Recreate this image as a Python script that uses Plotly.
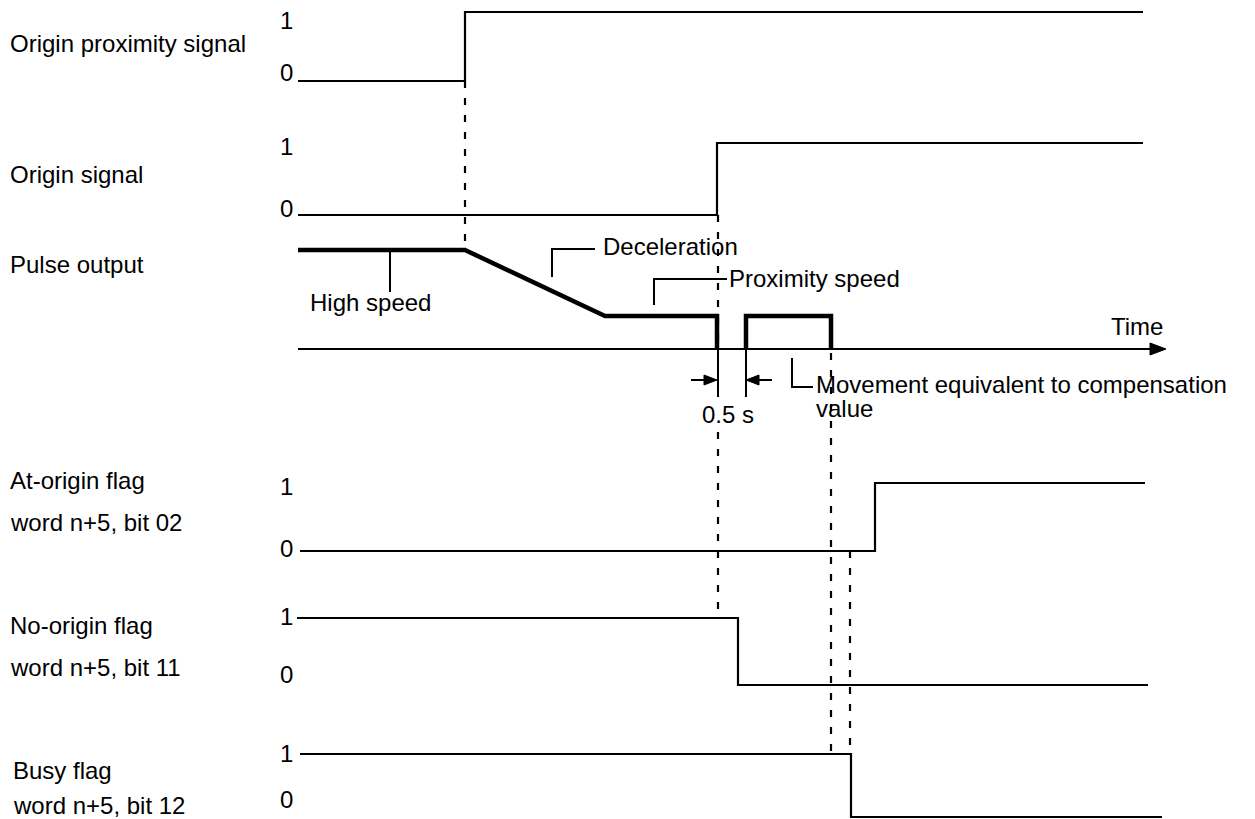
import plotly.graph_objects as go

# ---------------- data (time units on the horizontal scale) ----------------
T_START = 298
# transition instants
t_prox_on = 465        # origin proximity signal rises
t_decel_end = 605      # deceleration finished -> proximity speed
t_origin_on = 717      # origin signal rises, pulse output stops
t_restart = 746        # pulse restarts after 0.5 s
t_noorigin_off = 738   # no-origin flag falls
t_comp_end = 831       # compensation movement ends
t_busy_off = 851       # busy flag falls
t_atorigin_on = 875    # at-origin flag rises
t_axis_end = 1166      # time-axis arrow tip

# step signals: (times, levels 0/1)
prox_t = [T_START, t_prox_on, t_prox_on, 1143]
prox_v = [0, 0, 1, 1]
origin_t = [T_START, t_origin_on, t_origin_on, 1143]
origin_v = [0, 0, 1, 1]
atorigin_t = [300, t_atorigin_on, t_atorigin_on, 1145]
atorigin_v = [0, 0, 1, 1]
noorigin_t = [297, t_noorigin_off, t_noorigin_off, 1148]
noorigin_v = [1, 1, 0, 0]
busy_t = [300, t_busy_off, t_busy_off, 1162]
busy_v = [1, 1, 0, 0]

# pulse output speed profile (1 = high speed); None = pen up
pulse_t = [T_START, t_prox_on, t_decel_end, t_origin_on, t_origin_on, None,
           t_restart, t_restart, t_comp_end, t_comp_end]
pulse_v = [1.0, 1.0, 0.333, 0.333, 0.0, None, 0.0, 0.333, 0.333, 0.0]

row_names = ["Origin proximity signal", "Origin signal", "Pulse output",
             "At-origin flag", "word n+5, bit 02", "No-origin flag",
             "word n+5, bit 11", "Busy flag", "word n+5, bit 12"]

# ---------------- layout (vertical placement of each row) ----------------
rows = {  # (y at level 0, y at level 1)
    "prox": (81, 12),
    "origin": (215, 143),
    "pulse": (349, 250),
    "atorigin": (551, 483),
    "noorigin": (685, 618),
    "busy": (817, 754),
}


def ys(row, vals):
    y0, y1 = rows[row]
    return [None if v is None else y0 + v * (y1 - y0) for v in vals]


FONT = "Liberation Sans, Arial, sans-serif"
FS = 24
BLACK = "#000000"

fig = go.Figure()


def line(x, y, width=2.2, dash=None):
    fig.add_trace(go.Scatter(x=x, y=y, mode="lines", hoverinfo="skip",
                             line=dict(color=BLACK, width=width, dash=dash),
                             connectgaps=False, showlegend=False))


# step signals
line(prox_t, ys("prox", prox_v))
line(origin_t, ys("origin", origin_v))
line(atorigin_t, ys("atorigin", atorigin_v))
line(noorigin_t, ys("noorigin", noorigin_v))
line(busy_t, ys("busy", busy_v))

# time axis
axis_y = rows["pulse"][0]
line([T_START, t_axis_end - 14], [axis_y, axis_y], width=2)
fig.add_trace(go.Scatter(x=[t_axis_end - 16, t_axis_end, t_axis_end - 16, t_axis_end - 16],
                         y=[axis_y - 6, axis_y, axis_y + 6, axis_y - 6],
                         mode="lines", fill="toself", fillcolor=BLACK,
                         line=dict(color=BLACK, width=1), hoverinfo="skip",
                         showlegend=False))

# pulse output (thick)
line(pulse_t, ys("pulse", pulse_v), width=4.5)

# dashed guide lines
DASH = "7px,10px"
line([t_prox_on, t_prox_on], [rows["prox"][0], rows["pulse"][1]], width=2.2, dash=DASH)
line([t_origin_on + 1, t_origin_on + 1], [rows["origin"][0], rows["pulse"][0]], width=2.2, dash=DASH)
line([t_origin_on + 1, t_origin_on + 1], [432, rows["noorigin"][1] - 4], width=2.2, dash=DASH)
line([t_comp_end, t_comp_end], [rows["pulse"][0] + 4, rows["busy"][1]], width=2.2, dash=DASH)
line([t_busy_off - 1, t_busy_off - 1], [rows["atorigin"][0], rows["busy"][1]], width=2.2, dash=DASH)

# 0.5 s dimension
dim_top, dim_bot, arr_y = axis_y, 397, 380
line([t_origin_on + 1, t_origin_on + 1], [dim_top, dim_bot], width=2)
line([t_restart, t_restart], [dim_top, dim_bot], width=2)
line([t_origin_on - 26, t_origin_on - 10], [arr_y, arr_y], width=2)
line([t_restart + 26, t_restart + 10], [arr_y, arr_y], width=2)
for tip, d in [(t_origin_on, -1), (t_restart, 1)]:
    fig.add_trace(go.Scatter(x=[tip, tip + d * 13, tip + d * 13, tip],
                             y=[arr_y, arr_y - 5, arr_y + 5, arr_y],
                             mode="lines", fill="toself", fillcolor=BLACK,
                             line=dict(color=BLACK, width=1), hoverinfo="skip",
                             showlegend=False))

# leaders
line([390, 390], [252, 292], width=2)                       # High speed
line([552, 552, 595], [277, 249, 249], width=2)             # Deceleration
line([654, 654, 727], [305, 279, 279], width=2)             # Proximity speed
line([792, 792, 813], [358, 387, 387], width=2)             # compensation

annotations = []


def text(x, y, s, anchor="left"):
    annotations.append(dict(x=x, y=y, text=s, showarrow=False, xanchor=anchor,
                            yanchor="middle", font=dict(family=FONT, size=FS, color=BLACK)))


# row labels
label_pos = [(8, 43), (8, 174), (8, 264), (8, 480), (8, 522),
             (8, 625), (8, 667), (11, 770), (11, 805)]
for (lx, ly), name in zip(label_pos, row_names):
    text(lx, ly, name)

# 1 / 0 level labels
for y1, y0 in [(20, 72), (146, 208), (486, 548), (616, 674), (753, 799)]:
    text(286, y1, "1", "center")
    text(286, y0, "0", "center")

text(370, 302, "High speed", "center")
text(601, 246, "Deceleration")
text(727, 278, "Proximity speed")
text(1137, 326, "Time", "center")
text(728, 414, "0.5 s", "center")
text(814, 384, "Movement equivalent to compensation")
text(814, 408, "value")

fig.update_layout(
    width=1255, height=819,
    margin=dict(l=0, r=0, t=0, b=0),
    paper_bgcolor="white", plot_bgcolor="white",
    xaxis=dict(range=[0, 1255], visible=False, fixedrange=True),
    yaxis=dict(range=[819, 0], visible=False, fixedrange=True),
    annotations=annotations,
    showlegend=False,
)

fig.write_html("out.html", config={"displayModeBar": False},
               post_script="document.body.style.margin='0';document.body.style.overflow='hidden';")
